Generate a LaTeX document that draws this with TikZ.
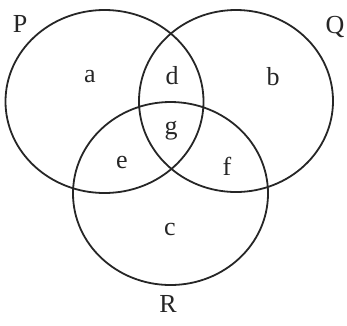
\documentclass[tikz,border=0pt]{standalone}
\usepackage{fontspec}
\setmainfont{Liberation Serif}
\begin{document}
\begin{tikzpicture}[x=1pt,y=-1pt,
  setline/.style={line width=1.8pt, draw=black!85},
  lbl/.style={font=\fontsize{26}{26}\selectfont, inner sep=0pt, text=black!85}]
\useasboundingbox (0,0) rectangle (347,325);
\draw[setline] (104.5,101.5) ellipse [x radius=99, y radius=91.5];
\draw[setline] (236,101) ellipse [x radius=97, y radius=91];
\draw[setline] (170.5,193.5) ellipse [x radius=97.5, y radius=91.5];
\node[lbl] (P) at (20,24) {P};
\node[lbl] (Q) at (335,27) {Q};
\node[lbl] (R) at (168,304) {R};
\node[lbl] (a) at (90,77) {a};
\node[lbl] (d) at (172,76) {d};
\node[lbl] (b) at (273,77) {b};
\node[lbl] (g) at (171,131) {g};
\node[lbl] (e) at (122,162) {e};
\node[lbl] (f) at (227,166) {f};
\node[lbl] (c) at (170,229) {c};
\end{tikzpicture}
\end{document}
